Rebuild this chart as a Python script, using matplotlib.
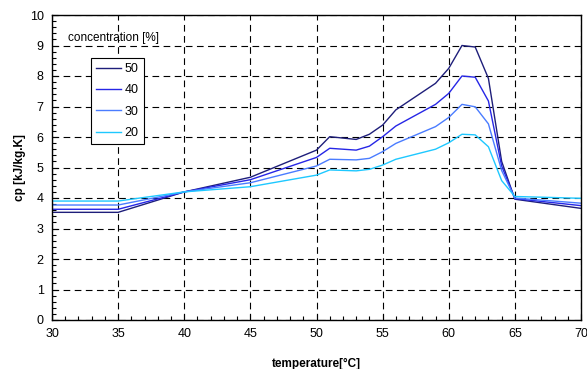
import matplotlib
matplotlib.use("Agg")
import matplotlib.pyplot as plt
from matplotlib.ticker import MultipleLocator

plt.rcParams['font.family'] = ['Liberation Sans', 'DejaVu Sans']

temperature = [30, 35, 40, 45, 50, 51, 53, 54, 55, 56, 59, 60, 61, 62, 63, 64, 65, 70]
cp_50 = [3.53, 3.53, 4.2, 4.68, 5.57, 6.01, 5.92, 6.09, 6.39, 6.89, 7.76, 8.25, 9.0, 8.95, 7.92, 5.2, 3.96, 3.66]
cp_40 = [3.63, 3.63, 4.2, 4.60, 5.33, 5.63, 5.57, 5.70, 6.01, 6.36, 7.07, 7.43, 8.0, 7.96, 7.18, 5.05, 3.98, 3.75]
cp_30 = [3.77, 3.77, 4.2, 4.50, 5.05, 5.27, 5.25, 5.30, 5.52, 5.79, 6.34, 6.64, 7.07, 6.99, 6.43, 4.9, 4.0, 3.83]
cp_20 = [3.90, 3.90, 4.2, 4.37, 4.75, 4.92, 4.89, 4.94, 5.08, 5.27, 5.60, 5.81, 6.09, 6.07, 5.68, 4.57, 4.05, 3.99]
series_labels = ['50', '40', '30', '20']
colors = ['#1e1e7a', '#2626e6', '#4a7cff', '#1ec8ff']

fig = plt.figure(figsize=(5.87, 3.69), dpi=100)
ax = fig.add_axes([52/587, (369-320)/369, (581-52)/587, (320-15)/369])

for y, lab, c in zip([cp_50, cp_40, cp_30, cp_20], series_labels, colors):
    ax.plot(temperature, y, color=c, lw=1.0, label=lab)

ax.set_xlim(30, 70)
ax.set_ylim(0, 10)
ax.xaxis.set_major_locator(MultipleLocator(5))
ax.xaxis.set_minor_locator(MultipleLocator(1))
ax.yaxis.set_major_locator(MultipleLocator(1))
ax.yaxis.set_minor_locator(MultipleLocator(0.2))
ax.tick_params(which='both', direction='in', top=False, right=False, labelsize=9, color='black')
ax.tick_params(which='major', length=4, width=0.8, pad=6)
ax.tick_params(which='minor', length=3, width=0.8)
ax.grid(True, which='major', color='black', linestyle=(0, (6, 4)), lw=0.8)
for s in ax.spines.values():
    s.set_linewidth(1.0)

ax.set_xlabel('temperature[°C]', fontsize=8.5, fontweight='bold', labelpad=13)
ax.set_ylabel('cp [kJ/kg.K]', fontsize=8.5, fontweight='bold', labelpad=3)

leg = ax.legend(loc='upper left', bbox_to_anchor=((91-52)/529, (320-58)/305),
                fontsize=9, frameon=True, fancybox=False, edgecolor='black',
                framealpha=1, handlelength=2.0, handletextpad=0.3,
                borderpad=0.4, labelspacing=0.75, borderaxespad=0)
leg.get_frame().set_linewidth(0.8)
ax.text((68-52)/529, (320-38)/305, 'concentration [%]', transform=ax.transAxes,
        fontsize=8.5, va='center', ha='left')

fig.savefig('out.png', dpi=100)
